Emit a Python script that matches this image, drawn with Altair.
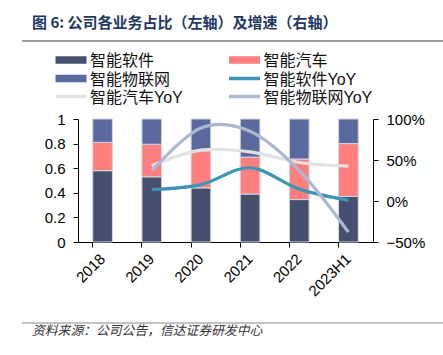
import altair as alt
import pandas as pd

# ---- data ----
years = ["2018", "2019", "2020", "2021", "2022", "2023H1"]
share_software = [0.58, 0.53, 0.44, 0.39, 0.345, 0.37]
share_auto = [0.23, 0.265, 0.30, 0.30, 0.33, 0.43]
share_iot = [0.19, 0.205, 0.26, 0.31, 0.325, 0.20]
yoy_software = [None, 0.14, 0.20, 0.405, 0.145, 0.01]
yoy_auto = [None, 0.43, 0.62, 0.60, 0.47, 0.425]
yoy_iot = [None, 0.37, 0.89, 0.85, 0.37, -0.38]

bar_names = ["智能软件", "智能汽车", "智能物联网"]
line_names = ["智能软件YoY", "智能汽车YoY", "智能物联网YoY"]
left_ticks = [0, 0.2, 0.4, 0.6, 0.8, 1]
right_ticks = [-0.5, 0, 0.5, 1]
title_text = "图 6: 公司各业务占比（左轴）及增速（右轴）"
source_text = "资料来源：公司公告，信达证券研发中心"

# ---- styling ----
bar_colors = ["#474f6f", "#ff7f7f", "#5a6a9f"]
line_colors = ["#3d96b5", "#e2e2e2", "#adb8ce"]
NUM_FONT = "Liberation Sans, Arial, sans-serif"
CJK_FONT = "Liberation Sans, 'Noto Sans CJK SC', sans-serif"

W, H = 295, 123
PL, PT = 78, 119

# ---- tables ----
bar_rows = []
for s_idx, (name, vals) in enumerate(zip(bar_names, [share_software, share_auto, share_iot])):
    for y, v in zip(years, vals):
        bar_rows.append({"year": y, "series": name, "value": v, "idx": s_idx})
bars_df = pd.DataFrame(bar_rows)

line_rows = []
for s_idx, (name, vals) in enumerate(zip(line_names, [yoy_software, yoy_auto, yoy_iot])):
    for y, v in zip(years, vals):
        if v is not None:
            line_rows.append({"year": y, "series": name, "yoy": v, "idx": s_idx})
lines_df = pd.DataFrame(line_rows)

x_enc = alt.X(
    "year:N",
    sort=years,
    scale=alt.Scale(paddingInner=0.6, paddingOuter=0.3),
    axis=alt.Axis(
        title=None,
        bandPosition=0,
        labelAngle=-45,
        labelOffset=-5,
        labelFontSize=15,
        labelFont=NUM_FONT,
        labelPadding=4,
        tickSize=5,
    ),
)

bars = alt.Chart(bars_df).mark_bar(stroke="#d3d6e2", strokeWidth=1).encode(
    x=x_enc,
    y=alt.Y(
        "value:Q",
        stack="zero",
        scale=alt.Scale(domain=[0, 1], nice=False),
        axis=alt.Axis(
            title=None,
            orient="left",
            values=left_ticks,
            format=".1~f",
            labelFontSize=15,
            labelFont=NUM_FONT,
            tickSize=5,
            labelPadding=8,
        ),
    ),
    color=alt.Color("series:N", scale=alt.Scale(domain=bar_names, range=bar_colors), legend=None),
    order=alt.Order("idx:Q", sort="ascending"),
)

lines = alt.Chart(lines_df).mark_line(strokeWidth=3.2, interpolate="cardinal").encode(
    x=alt.X("year:N", sort=years),
    y=alt.Y(
        "yoy:Q",
        scale=alt.Scale(domain=[-0.5, 1], nice=False),
        axis=alt.Axis(
            title=None,
            orient="right",
            values=right_ticks,
            format=".0%",
            labelFontSize=15,
            labelFont=NUM_FONT,
            tickSize=5,
            labelPadding=8,
        ),
    ),
    stroke=alt.Stroke("series:N", scale=alt.Scale(domain=line_names, range=line_colors), legend=None),
    detail="series:N",
)

one = pd.DataFrame({"k": [0]})

decor = []
# title
decor.append(
    alt.Chart(one).mark_text(
        text=title_text, align="left", baseline="middle", fontSize=15, fontWeight="bold",
        font="'Noto Sans CJK SC', sans-serif", color="#1f3864",
    ).encode(x=alt.value(32 - PL), y=alt.value(23 - PT))
)
# top rule
decor.append(
    alt.Chart(one).mark_rule(color="#333333", strokeWidth=1).encode(
        x=alt.value(22 - PL), x2=alt.value(443 - PL), y=alt.value(41 - PT)
    )
)
# bottom rule
decor.append(
    alt.Chart(one).mark_rule(color="#888888", strokeWidth=1).encode(
        x=alt.value(22 - PL), x2=alt.value(443 - PL), y=alt.value(323 - PT)
    )
)
# source
decor.append(
    alt.Chart(one).mark_text(
        text=source_text, align="left", baseline="middle", fontSize=12.8, fontStyle="italic",
        font="'Noto Sans CJK SC', sans-serif", color="#333333",
    ).encode(x=alt.value(32 - PL), y=alt.value(331 - PT))
)

# legend (manual, two columns)
entries = [
    (bar_names[0], bar_colors[0], "bar"),
    (bar_names[1], bar_colors[1], "bar"),
    (bar_names[2], bar_colors[2], "bar"),
    (line_names[0], line_colors[0], "line"),
    (line_names[1], line_colors[1], "line"),
    (line_names[2], line_colors[2], "line"),
]
col_x = [55.5, 229]
row_y = [60, 78.5, 96.5]
for i, (name, colr, kind) in enumerate(entries):
    cx = col_x[i % 2] - PL
    ry = row_y[i // 2] - PT
    decor.append(
        alt.Chart(one).mark_rule(color=colr, strokeWidth=7.5 if kind == "bar" else 3.5).encode(
            x=alt.value(cx), x2=alt.value(cx + 31), y=alt.value(ry)
        )
    )
    decor.append(
        alt.Chart(one).mark_text(
            text=name, align="left", baseline="middle", fontSize=16, font=CJK_FONT, color="#111111"
        ).encode(x=alt.value(cx + 34.5), y=alt.value(ry + 1))
    )

chart = (
    alt.layer(bars, lines, *decor)
    .resolve_scale(y="independent", color="independent")
    .properties(
        width=W,
        height=H,
        autosize=alt.AutoSizeParams(type="none"),
        padding={"left": PL, "top": PT, "right": 443 - PL - W, "bottom": 355 - PT - H},
        background="white",
    )
    .configure_view(stroke=None)
    .configure_axis(
        domainColor="#000000",
        tickColor="#000000",
        labelColor="#000000",
        grid=False,
        domainWidth=1,
        tickWidth=1,
    )
)

chart.save("out.html", embed_options={"renderer": "svg", "actions": False})
